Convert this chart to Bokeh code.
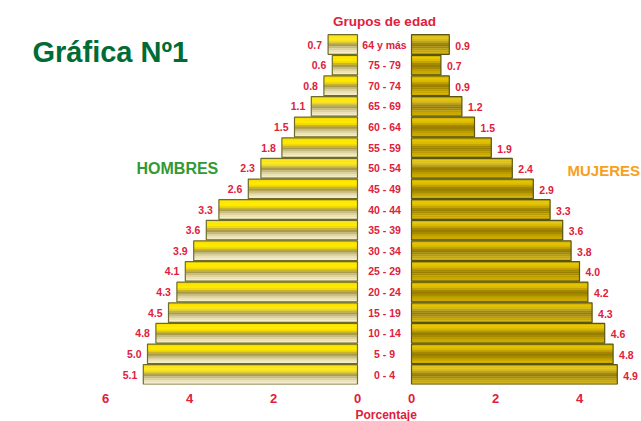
from bokeh.plotting import figure
from bokeh.models import ColumnDataSource, Range1d, FixedTicker, Label, Title
from bokeh.transform import dodge
from bokeh.core.properties import value
from bokeh.embed import file_html
from bokeh.resources import INLINE

# ---------------- data ----------------
age_groups = ["0 - 4", "5 - 9", "10 - 14", "15 - 19", "20 - 24", "25 - 29",
              "30 - 34", "35 - 39", "40 - 44", "45 - 49", "50 - 54", "55 - 59",
              "60 - 64", "65 - 69", "70 - 74", "75 - 79", "64 y más"]
hombres = [5.1, 5.0, 4.8, 4.5, 4.3, 4.1, 3.9, 3.6, 3.3, 2.6, 2.3, 1.8, 1.5, 1.1, 0.8, 0.6, 0.7]
mujeres = [4.9, 4.8, 4.6, 4.3, 4.2, 4.0, 3.8, 3.6, 3.3, 2.9, 2.4, 1.9, 1.5, 1.2, 0.9, 0.7, 0.9]
left_tick_values = [6, 4, 2, 0]
right_tick_values = [0, 2, 4]

# ---------------- layout / style ----------------
FONT = "Liberation Sans"
RED = "#E0203C"
OFF = 0.643          # half gap between the two halves (data units)
BAR_H = 0.95
left_grad = ["#F8DC00", "#FFE600", "#FFEA00", "#F2DA08", "#C8B430",
             "#A89C4C", "#C6BA7E", "#DDD29E", "#EBE2B6", "#F4ECC6"]
right_grad = ["#D2B200", "#E4C400", "#DCBC00", "#C4A400", "#A48800",
              "#977E00", "#A68A00", "#BA9C00", "#C8A800", "#CCAC00"]

W, H = 641, 421
FRAME_BOTTOM = 384


def px_x(px):
    return (px - 384) / 42.0


def px_y(py):
    return (374 - py) / 20.625


ypos = list(range(len(age_groups)))
src = ColumnDataSource(dict(
    y=ypos,
    age=age_groups,
    h=hombres,
    m=mujeres,
    h_left=[-OFF - v for v in hombres],
    h_right=[-OFF for _ in hombres],
    m_left=[OFF for _ in mujeres],
    m_right=[OFF + v for v in mujeres],
    h_lab=["%.1f" % v for v in hombres],
    m_lab=["%.1f" % v for v in mujeres],
))

p = figure(width=W, height=H, output_backend="svg", toolbar_location=None,
           x_range=Range1d(px_x(0), px_x(W)), y_range=Range1d(px_y(FRAME_BOTTOM), px_y(0)),
           y_axis_location=None, min_border_left=0, min_border_right=0,
           min_border_top=0, min_border_bottom=H - FRAME_BOTTOM)
p.outline_line_color = None
p.xgrid.visible = False
p.ygrid.visible = False
p.background_fill_color = "white"
p.border_fill_color = "white"

# gradient stripes
n = len(left_grad)
sh = BAR_H / n
for k in range(n):
    off_k = BAR_H / 2 - sh * (k + 0.5)
    p.hbar(y=dodge("y", off_k, range=p.y_range), left="h_left", right="h_right",
           height=sh * 1.15, fill_color=left_grad[k], line_color=None, source=src)
    p.hbar(y=dodge("y", off_k, range=p.y_range), left="m_left", right="m_right",
           height=sh * 1.15, fill_color=right_grad[k], line_color=None, source=src)

# outlines
p.hbar(y="y", left="h_left", right="h_right", height=BAR_H, fill_color=None,
       line_color="#6E6C28", line_width=1.2, source=src)
p.hbar(y="y", left="m_left", right="m_right", height=BAR_H, fill_color=None,
       line_color="#5A5612", line_width=1.2, source=src)

# value labels
p.text(x="h_left", y="y", text="h_lab", source=src, x_offset=-6,
       text_align="right", text_baseline="middle", text_color=RED,
       text_font=value(FONT), text_font_style="bold", text_font_size="10.5px")
p.text(x="m_right", y="y", text="m_lab", source=src, x_offset=6, y_offset=1,
       text_align="left", text_baseline="middle", text_color=RED,
       text_font=value(FONT), text_font_style="bold", text_font_size="10.5px")
# age group labels
p.text(x=0, y="y", text="age", source=src, text_align="center",
       text_baseline="middle", text_color=RED, text_font=value(FONT),
       text_font_style="bold", text_font_size="10.5px")

# x axis
ticks = [-OFF - v for v in left_tick_values] + [OFF + v for v in right_tick_values]
labels = [str(v) for v in left_tick_values] + [str(v) for v in right_tick_values]
ax = p.xaxis[0]
ax.ticker = FixedTicker(ticks=ticks)
ax.major_label_overrides = {t: l for t, l in zip(ticks, labels)}
ax.axis_line_color = None
ax.major_tick_line_color = None
ax.minor_tick_line_color = None
ax.major_label_standoff = 3
ax.major_label_text_color = RED
ax.major_label_text_font = FONT
ax.major_label_text_font_style = "bold"
ax.major_label_text_font_size = "13px"

# "Porcentaje" caption below the axis
p.add_layout(Title(text="Porcentaje", align="left", offset=355, standoff=0,
                   text_color=RED, text_font=FONT, text_font_style="bold",
                   text_font_size="12px"), "below")

# annotations
def add_label(px, py, text, color, size, align="left"):
    p.add_layout(Label(x=px_x(px), y=px_y(py), text=text, text_color=color,
                       text_font=FONT, text_font_style="bold", text_font_size=size,
                       text_align=align, text_baseline="middle"))

add_label(32, 51, "Gráfica Nº1", "#006B35", "29px")
add_label(384, 21, "Grupos de edad", RED, "13.5px", "center")
add_label(136, 168, "HOMBRES", "#339933", "16px")
add_label(567, 170, "MUJERES", "#F7A01E", "15px")

open("out.html", "w").write(file_html(p, INLINE))
